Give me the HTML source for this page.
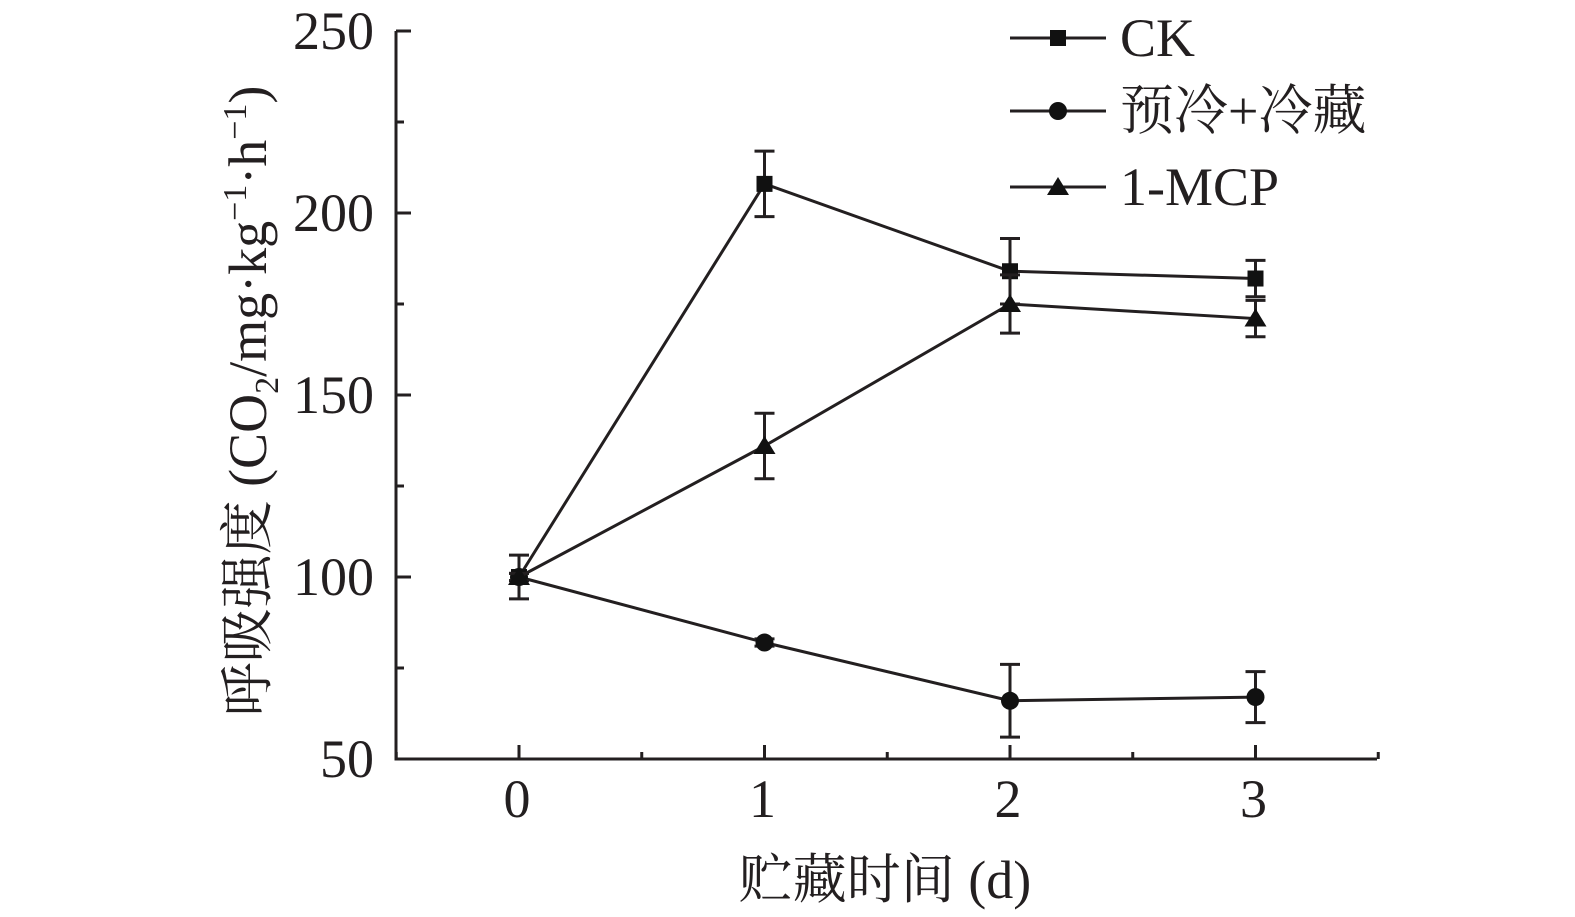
<!DOCTYPE html>
<html><head><meta charset="utf-8"><style>
body{margin:0;background:#fff}
svg{display:block}
text{font-family:"Liberation Serif","Noto Serif CJK SC",serif;fill:#231f20}
</style></head><body>
<svg id="chart" width="1575" height="917" viewBox="0 0 1575 917" xmlns="http://www.w3.org/2000/svg">
<g id="axes"></g>
<g id="series"></g>
<g id="legend"></g>
<text x="885" y="898" font-size="54" text-anchor="middle">贮藏时间 (d)</text>
<text transform="translate(266,401) rotate(-90)" font-size="54" text-anchor="middle">呼吸强度 (CO<tspan font-size="34" dy="12">2</tspan><tspan dy="-12">/mg·kg</tspan><tspan font-size="34" dy="-20">−1</tspan><tspan dy="20">·h</tspan><tspan font-size="34" dy="-20">−1</tspan><tspan dy="20">)</tspan></text>
</svg>
<script>
const days=[0,1,2,3];
const ckValues=[100,208,184,182];
const ckErrors=[6,9,9,5];
const coldValues=[100,82,66,67];
const coldErrors=[1,1,10,7];
const mcpValues=[100,136,175,171];
const mcpErrors=[1,9,8,5];
const yTicks=[50,100,150,200,250];
const xTicks=[0,1,2,3];
const seriesNames=["CK","预冷+冷藏","1-MCP"];

const NS="http://www.w3.org/2000/svg";
const X0=396,Y0=759;
function xs(d){return 519+d*245.5;}
function ys(v){return 759-(v-50)*3.64;}
function mk(tag,attrs,parent){const e=document.createElementNS(NS,tag);for(const k in attrs)e.setAttribute(k,attrs[k]);parent.appendChild(e);return e;}
const axes=document.getElementById('axes'),series=document.getElementById('series'),legend=document.getElementById('legend');
let e;
e=mk('line',{x1:X0,y1:31,x2:X0,y2:Y0+1.5,stroke:'#231f20','stroke-width':3},axes);


e=mk('line',{x1:X0-1.5,y1:Y0,x2:1377,y2:Y0,stroke:'#231f20','stroke-width':3},axes);


yTicks.forEach((t,i)=>{
  const y=ys(t);
  let l=mk('line',{x1:X0,y1:y,x2:X0+15,y2:y,stroke:'#231f20','stroke-width':3},axes);
  
  
  let tx=mk('text',{x:374,y:y+18,'font-size':54,'text-anchor':'end'},axes);tx.textContent=t;
  
  
  if(i<yTicks.length-1){
    let m=mk('line',{x1:X0,y1:ys(t+25),x2:X0+8,y2:ys(t+25),stroke:'#231f20','stroke-width':3},axes);
    
    
  }
});
xTicks.forEach(t=>{
  const x=xs(t);
  let l=mk('line',{x1:x,y1:Y0,x2:x,y2:Y0-14,stroke:'#231f20','stroke-width':3},axes);
  
  
  let tx=mk('text',{x:x-2,y:817,'font-size':54,'text-anchor':'middle'},axes);tx.textContent=t;
  
  
});
[-0.5,0.5,1.5,2.5,3.5].forEach(t=>{
  let m=mk('line',{x1:xs(t),y1:Y0,x2:xs(t),y2:Y0-7,stroke:'#231f20','stroke-width':3},axes);
  
  
});
function marker(shape,x,y,parent){
  let m;
  if(shape==='square')m=mk('rect',{x:x-8,y:y-8,width:16,height:16,fill:'#111'},parent);
  else if(shape==='circle')m=mk('circle',{cx:x,cy:y,r:9,fill:'#111'},parent);
  else m=mk('polygon',{points:`${x},${y-10} ${x+11},${y+8} ${x-11},${y+8}`,fill:'#111'},parent);
  return m;
}
function drawSeries(name,vals,errs,shape){
  const g=mk('g',{},series);
  
  
  const pts=days.map((d,i)=>xs(d)+','+ys(vals[i])).join(' ');
  let pl=mk('polyline',{points:pts,fill:'none',stroke:'#231f20','stroke-width':3},g);
  
  
  days.forEach((d,i)=>{
    const x=xs(d),y1=ys(vals[i]+errs[i]),y2=ys(vals[i]-errs[i]);
    const eb=mk('path',{d:`M${x},${y1}V${y2}M${x-10},${y1}H${x+10}M${x-10},${y2}H${x+10}`,stroke:'#231f20','stroke-width':3,fill:'none'},g);
    
    
    const m=marker(shape,x,ys(vals[i]),g);
    
    
  });
}
drawSeries('ck',ckValues,ckErrors,'square');
drawSeries('cold',coldValues,coldErrors,'circle');
drawSeries('mcp',mcpValues,mcpErrors,'triangle');
const shapes=['square','circle','triangle'];
const legY=[38,111,187];
seriesNames.forEach((n,i)=>{
  const g=mk('g',{},legend);
  
  
  mk('line',{x1:1010,y1:legY[i],x2:1106,y2:legY[i],stroke:'#231f20','stroke-width':3},g);
  marker(shapes[i],1058,legY[i],g);
  const t=mk('text',{x:1120,y:legY[i]+18,'font-size':54},g);t.textContent=n;
});
</script>
</body></html>
